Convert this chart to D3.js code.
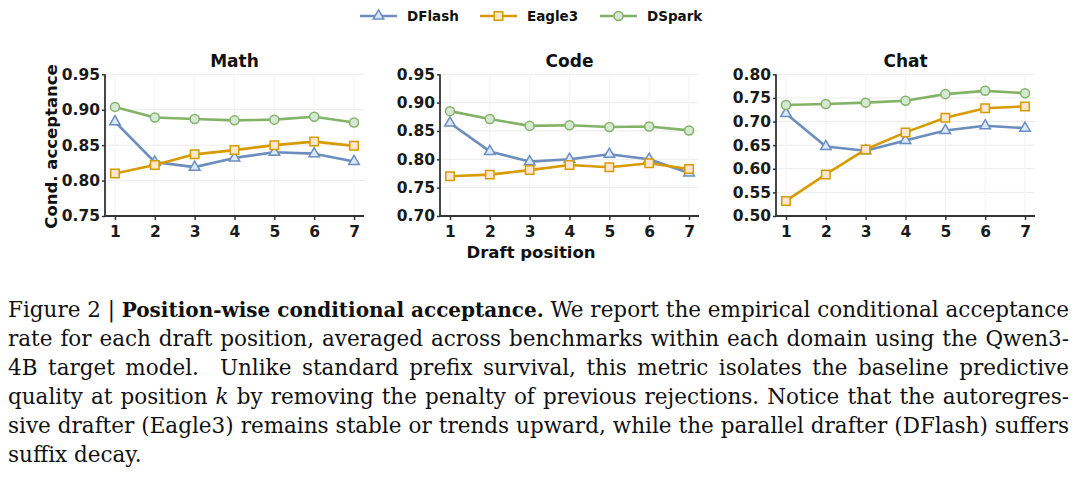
<!DOCTYPE html>
<html>
<head>
<meta charset="utf-8">
<script src="https://cdn.jsdelivr.net/npm/d3@7"></script>
<style>
  html, body { margin: 0; padding: 0; background: #fff; }
  svg { display: block; }
</style>
</head>
<body>
<svg id="chart" width="1080" height="484"></svg>
<script>
// ---------------- DATA ----------------
const positions = [1, 2, 3, 4, 5, 6, 7];
const seriesNames = ["DFlash", "Eagle3", "DSpark"];
const panelTitles = ["Math", "Code", "Chat"];

const mathDFlash = [0.883, 0.826, 0.819, 0.832, 0.840, 0.838, 0.827];
const mathEagle3 = [0.810, 0.822, 0.837, 0.843, 0.850, 0.855, 0.849];
const mathDSpark = [0.904, 0.889, 0.887, 0.885, 0.886, 0.890, 0.882];

const codeDFlash = [0.864, 0.814, 0.796, 0.800, 0.809, 0.800, 0.776];
const codeEagle3 = [0.770, 0.773, 0.781, 0.790, 0.786, 0.793, 0.783];
const codeDSpark = [0.885, 0.871, 0.859, 0.860, 0.857, 0.858, 0.851];

const chatDFlash = [0.717, 0.647, 0.638, 0.660, 0.681, 0.691, 0.686];
const chatEagle3 = [0.532, 0.588, 0.641, 0.677, 0.708, 0.728, 0.732];
const chatDSpark = [0.735, 0.737, 0.740, 0.744, 0.758, 0.765, 0.760];

const mathTicks = [0.75, 0.80, 0.85, 0.90, 0.95];
const codeTicks = [0.70, 0.75, 0.80, 0.85, 0.90, 0.95];
const chatTicks = [0.50, 0.55, 0.60, 0.65, 0.70, 0.75, 0.80];

const yLabel = "Cond. acceptance";
const xLabel = "Draft position";

const captionLines = [
  [{t: "Figure 2 | "}, {t: "Position-wise conditional acceptance.", b: true}, {t: " We report the empirical conditional acceptance"}],
  [{t: "rate for each draft position, averaged across benchmarks within each domain using the Qwen3-"}],
  [{t: "4B target model.  Unlike standard prefix survival, this metric isolates the baseline predictive"}],
  [{t: "quality at position "}, {t: "k", i: true}, {t: " by removing the penalty of previous rejections. Notice that the autoregres-"}],
  [{t: "sive drafter (Eagle3) remains stable or trends upward, while the parallel drafter (DFlash) suffers"}],
  [{t: "suffix decay."}]
];

// ---------------- STYLE ----------------
const colors = {
  DFlash: {stroke: "#6c8ebf", fill: "#dae8fc", symbol: d3.symbolTriangle, size: 48},
  Eagle3: {stroke: "#d79b00", fill: "#ffe6cc", symbol: d3.symbolSquare, size: 72},
  DSpark: {stroke: "#82b366", fill: "#d5e8d4", symbol: d3.symbolCircle, size: 64}
};
const sansBold = "'DejaVu Sans', sans-serif";

const panels = [
  {title: panelTitles[0], x0: 105, ticks: mathTicks, series: {DFlash: mathDFlash, Eagle3: mathEagle3, DSpark: mathDSpark}},
  {title: panelTitles[1], x0: 440, ticks: codeTicks, series: {DFlash: codeDFlash, Eagle3: codeEagle3, DSpark: codeDSpark}},
  {title: panelTitles[2], x0: 776, ticks: chatTicks, series: {DFlash: chatDFlash, Eagle3: chatEagle3, DSpark: chatDSpark}}
];
const pw = 259, plotTop = 74.3, plotBottom = 216;

const svg = d3.select("#chart");

panels.forEach(p => {
  const g = svg.append("g").attr("transform", `translate(${p.x0},0)`);
  const x = d3.scaleLinear().domain([0.75, 7.25]).range([0, pw]);
  const y = d3.scaleLinear().domain([p.ticks[0], p.ticks[p.ticks.length - 1]]).range([plotBottom, plotTop]);

  // grid
  g.append("g").selectAll("line").data(p.ticks).join("line")
    .attr("x1", 0).attr("x2", pw).attr("y1", d => y(d)).attr("y2", d => y(d))
    .attr("stroke", "#ebebeb").attr("stroke-width", 1);
  g.append("g").selectAll("line").data(positions).join("line")
    .attr("x1", d => x(d)).attr("x2", d => x(d)).attr("y1", plotTop).attr("y2", plotBottom)
    .attr("stroke", "#f3f3f3").attr("stroke-width", 1);

  // axes
  const yAxis = d3.axisLeft(y).tickValues(p.ticks).tickFormat(d3.format(".2f")).tickSize(3).tickPadding(2);
  const ya = g.append("g").call(yAxis);
  const xAxis = d3.axisBottom(x).tickValues(positions).tickFormat(d3.format("d")).tickSize(4).tickPadding(6);
  const xa = g.append("g").attr("transform", `translate(0,${plotBottom})`).call(xAxis);
  [ya, xa].forEach(a => {
    a.select(".domain").attr("stroke", "#333").attr("stroke-width", 1.8);
    a.selectAll(".tick line").attr("stroke", "#333").attr("stroke-width", 1.5);
    a.selectAll(".tick text").attr("fill", "#1a1a1a").attr("font-family", sansBold)
      .attr("font-weight", "bold").attr("font-size", 15.5);
  });
  ya.select(".domain").attr("d", `M0,${plotTop}V${plotBottom}`);
  xa.select(".domain").attr("d", `M0,0H${pw}`);

  // title
  g.append("text").attr("x", pw / 2).attr("y", 67).attr("text-anchor", "middle")
    .attr("font-family", sansBold).attr("font-weight", "bold").attr("font-size", 17)
    .attr("fill", "#111").text(p.title);

  // series
  const line = d3.line().x((d, i) => x(positions[i])).y(d => y(d));
  seriesNames.forEach(name => {
    const c = colors[name];
    const vals = p.series[name];
    g.append("path").datum(vals).attr("d", line).attr("fill", "none")
      .attr("stroke", c.stroke).attr("stroke-width", 2.6).attr("stroke-linejoin", "round");
    g.append("g").selectAll("path").data(vals).join("path")
      .attr("d", d3.symbol().type(c.symbol).size(c.size))
      .attr("transform", (d, i) => `translate(${x(positions[i])},${y(d)})`)
      .attr("fill", c.fill).attr("stroke", c.stroke).attr("stroke-width", 1.5);
  });
});

// axis labels
svg.append("text").attr("transform", "translate(57,146.5) rotate(-90)").attr("text-anchor", "middle")
  .attr("font-family", sansBold).attr("font-weight", "bold").attr("font-size", 16.5)
  .attr("fill", "#111").text(yLabel);
svg.append("text").attr("x", 531).attr("y", 258).attr("text-anchor", "middle")
  .attr("font-family", sansBold).attr("font-weight", "bold").attr("font-size", 16.5)
  .attr("fill", "#111").text(xLabel);

// legend
const legendX = [360, 480, 600];
seriesNames.forEach((name, i) => {
  const c = colors[name];
  const lg = svg.append("g").attr("transform", `translate(${legendX[i]},16)`);
  lg.append("line").attr("x1", 0).attr("x2", 37).attr("y1", 0).attr("y2", 0)
    .attr("stroke", c.stroke).attr("stroke-width", 2.6);
  lg.append("path").attr("d", d3.symbol().type(c.symbol).size(c.size))
    .attr("transform", "translate(18.5,0)").attr("fill", c.fill).attr("stroke", c.stroke).attr("stroke-width", 1.5);
  lg.append("text").attr("x", 47).attr("y", 5).attr("font-family", sansBold).attr("font-weight", "bold")
    .attr("font-size", 13.5).attr("fill", "#111").text(name);
});

// caption
const capX = 8, capRight = 1069, capY0 = 317, capDy = 29;
captionLines.forEach((parts, li) => {
  const t = svg.append("text").attr("x", capX).attr("y", capY0 + li * capDy)
    .attr("font-family", "'DejaVu Serif', serif").attr("font-size", 21.5).attr("fill", "#111")
    .style("white-space", "pre");
  parts.forEach(pt => {
    const ts = t.append("tspan").text(pt.t);
    if (pt.b) ts.attr("font-weight", "bold").attr("font-size", 20);
    if (pt.i) ts.attr("font-style", "italic");
  });
  if (li < captionLines.length - 1) {
    const natural = t.node().getComputedTextLength();
    const nSpaces = parts.map(p => p.t).join("").split(" ").length - 1;
    const ws = (capRight - capX - natural) / nSpaces;
    t.attr("word-spacing", ws);
  }
});
</script>
</body>
</html>
